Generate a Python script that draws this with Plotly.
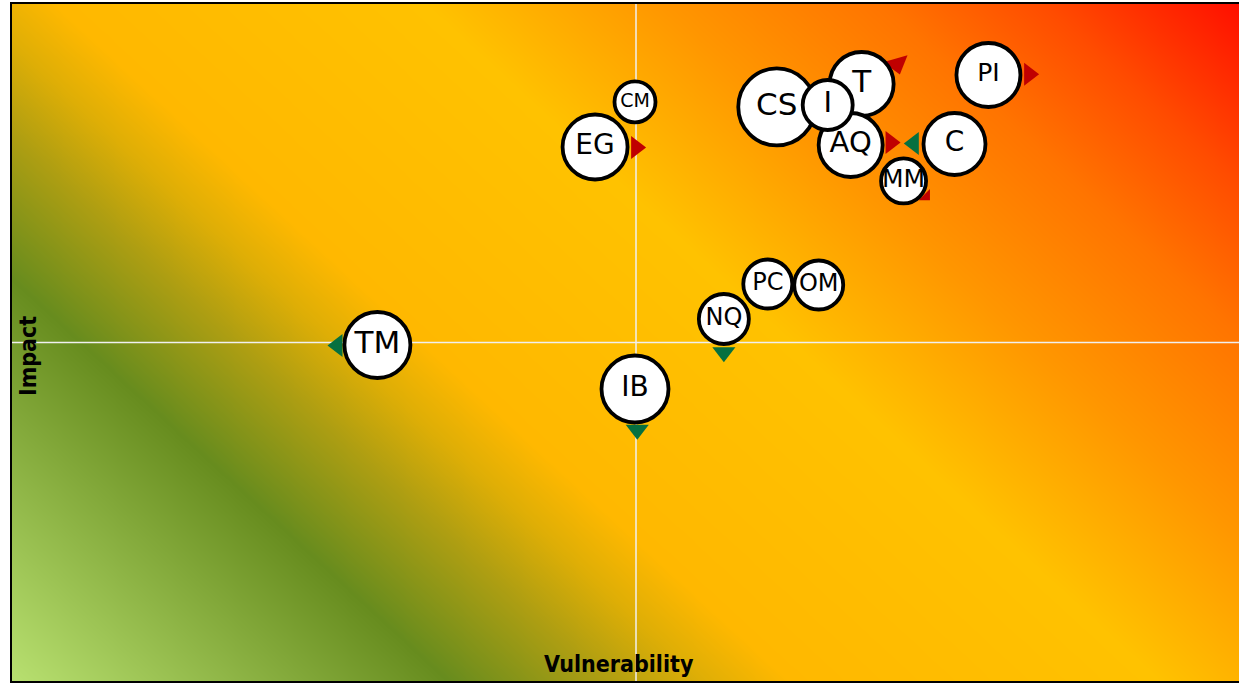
import numpy as np
import plotly.graph_objects as go

# ---------------- data ----------------
labels = ["CS", "T", "AQ", "EG", "CM", "C", "PI", "MM", "PC", "OM", "NQ", "TM", "IB", "I"]
vulnerability = [6.128, 6.808, 6.720, 4.672, 4.992, 7.552, 7.824, 7.144, 6.056, 6.464, 5.704, 2.928, 4.992, 6.536]
impact = [8.479, 8.818, 7.917, 7.888, 8.553, 7.932, 8.951, 7.386, 5.864, 5.849, 5.347, 4.963, 4.313, 8.508]
bubble_size = [77, 64, 64, 65, 41, 62, 64, 45, 49, 49, 50, 66, 67, 50]
label_size = [31, 31, 29, 28, 19, 28, 25, 25, 24, 24, 24, 31, 28, 29]

# trend arrows
arrow_owner = ["EG", "T", "PI", "AQ", "C", "MM", "TM", "NQ", "IB"]
arrow_x = [5.001, 7.090, 8.150, 7.040, 7.226, 7.325, 2.608, 5.704, 5.010]
arrow_y = [7.880, 9.114, 8.963, 7.954, 7.940, 7.155, 4.956, 4.855, 3.711]
arrow_symbol = ["triangle-right", "triangle-right", "triangle-right", "triangle-right",
                "triangle-left", "triangle-se", "triangle-left", "triangle-down", "triangle-down"]
arrow_angle = [0, 74, 0, 0, 0, 0, 0, 0, 0]
arrow_trend = ["up", "up", "up", "up", "down", "up", "down", "down", "down"]

X_RANGE = [0, 10]
Y_RANGE = [0, 10]
X_MID = 5
Y_MID = 5

# ---------------- style ----------------
W, H = 1262, 684
ML, MR, MT, MB = 12, 0, 4, 3
PW, PH = W - ML - MR, H - MT - MB
RED = "#c00000"
GREEN = "#067040"
LABEL_FONT = "DejaVu Sans, Verdana, sans-serif"
TITLE_FONT = "DejaVu Sans Condensed, DejaVu Sans, sans-serif"

# background gradient (diagonal, in pixel space)
gx = np.linspace(-0.1, 10.1, 260)
gy = np.linspace(-0.1, 10.1, 150)
GX, GY = np.meshgrid(gx, gy)
px = GX / 10 * PW
py = (10 - GY) / 10 * PH
D = 0.92 * px - py
stops = [(-677, "#b8e070"), (-275, "#678c1e"), (-130, "#ae9e12"), (-40, "#deae06"),
         (40, "#ffb800"), (380, "#ffc200"), (600, "#ff9600"), (800, "#ff7400"),
         (950, "#ff4c00"), (1129, "#ff1000")]
lo, hi = stops[0][0], stops[-1][0]
colorscale = [[(d - lo) / (hi - lo), c] for d, c in stops]

fig = go.Figure()
fig.add_trace(go.Heatmap(x=gx, y=gy, z=D, zmin=lo, zmax=hi, colorscale=colorscale,
                         zsmooth="best", showscale=False, hoverinfo="skip"))

# crosshair
fig.add_trace(go.Scatter(x=[X_MID, X_MID], y=Y_RANGE, mode="lines",
                         line=dict(color="#f0f0f0", width=1.5), hoverinfo="skip", showlegend=False))
fig.add_trace(go.Scatter(x=X_RANGE, y=[Y_MID, Y_MID], mode="lines",
                         line=dict(color="#f0f0f0", width=1.5), hoverinfo="skip", showlegend=False))

# arrows
arrow_sizes = [12.5 if s == "triangle-se" else (22 if a else 20) for s, a in zip(arrow_symbol, arrow_angle)]
fig.add_trace(go.Scatter(
    x=arrow_x, y=arrow_y, mode="markers", hoverinfo="skip", showlegend=False,
    marker=dict(symbol=arrow_symbol, angle=arrow_angle, size=arrow_sizes,
                color=[RED if t == "up" else GREEN for t in arrow_trend],
                opacity=1, line=dict(width=0)),
))

# bubbles
fig.add_trace(go.Scatter(
    x=vulnerability, y=impact, mode="markers+text", text=labels,
    textposition="middle center", hoverinfo="skip", showlegend=False,
    textfont=dict(family=LABEL_FONT, size=label_size, color="#000000"),
    marker=dict(size=bubble_size, color="white", opacity=1,
                line=dict(color="black", width=3.8)),
))

fig.update_xaxes(range=X_RANGE, showgrid=False, zeroline=False, showticklabels=False,
                 ticks="", showline=True, mirror=True, linecolor="black", linewidth=2)
fig.update_yaxes(range=Y_RANGE, showgrid=False, zeroline=False, showticklabels=False,
                 ticks="", showline=True, mirror=True, linecolor="black", linewidth=2)

fig.add_annotation(text="<b>Vulnerability</b>", xref="paper", yref="paper",
                   x=(620 - ML) / PW, y=(H - MB - 664) / PH, xanchor="center", yanchor="middle",
                   showarrow=False, font=dict(family=TITLE_FONT, size=23, color="black"))
fig.add_annotation(text="<b>Impact</b>", xref="paper", yref="paper",
                   x=(28 - ML) / PW, y=(H - MB - 356) / PH, xanchor="center", yanchor="middle",
                   showarrow=False, textangle=-90,
                   font=dict(family=TITLE_FONT, size=23, color="black"))

fig.update_layout(width=W, height=H, margin=dict(l=ML, r=MR, t=MT, b=MB),
                  paper_bgcolor="white", plot_bgcolor="white", showlegend=False)

fig.write_html("out.html", config={"displayModeBar": False, "staticPlot": True},
               post_script="document.body.style.margin='0px';document.body.style.overflow='hidden';"
                           "document.documentElement.style.overflow='hidden';")
